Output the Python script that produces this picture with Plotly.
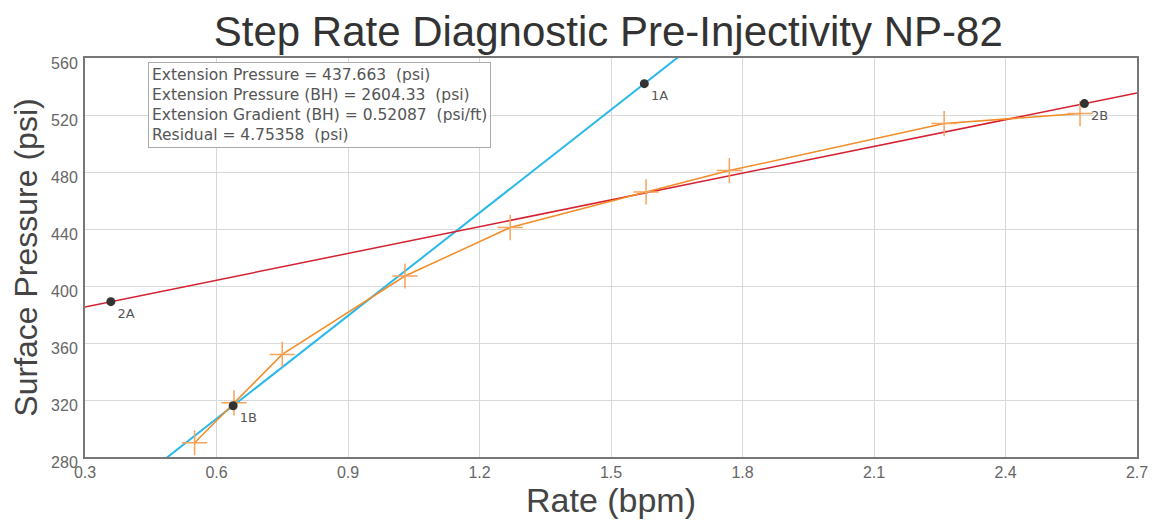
import plotly.graph_objects as go

# Measured step-rate data (orange)
rate = [0.55, 0.64, 0.75, 1.03, 1.27, 1.58, 1.77, 2.26, 2.57]
pressure = [290, 318, 352, 407, 441, 466, 481, 514, 521]

# Fit anchor points
fit_labels = ["1A", "1B", "2A", "2B"]
fit_rate = [1.576, 0.638, 0.359, 2.58]
fit_pressure = [542, 316, 389, 528]

x_range = [0.3, 2.7]
y_range = [280, 560]
x_ticks = [0.3, 0.6, 0.9, 1.2, 1.5, 1.8, 2.1, 2.4, 2.7]
y_ticks = [280, 320, 360, 400, 440, 480, 520, 560]

info_lines = [
    "Extension Pressure = 437.663  (psi)",
    "Extension Pressure (BH) = 2604.33  (psi)",
    "Extension Gradient (BH) = 0.52087  (psi/ft)",
    "Residual = 4.75358  (psi)",
]


def line_through(x1, y1, x2, y2):
    m = (y2 - y1) / (x2 - x1)
    xs = [x_range[0], x_range[1]]
    ys = [y1 + m * (x - x1) for x in xs]
    return xs, ys


fig = go.Figure()

bx, by = line_through(fit_rate[0], fit_pressure[0], fit_rate[1], fit_pressure[1])
fig.add_trace(go.Scatter(x=bx, y=by, mode="lines",
                         line=dict(color="#2BB8EA", width=2), showlegend=False))
rx, ry = line_through(fit_rate[2], fit_pressure[2], fit_rate[3], fit_pressure[3])
fig.add_trace(go.Scatter(x=rx, y=ry, mode="lines",
                         line=dict(color="#D42030", width=1.5), showlegend=False))

fig.add_trace(go.Scatter(x=rate, y=pressure, mode="lines+markers",
                         line=dict(color="#F28C28", width=1.5),
                         marker=dict(symbol="cross-thin", size=18,
                                     line=dict(color="#F7A35C", width=1.5)),
                         showlegend=False))

fig.add_trace(go.Scatter(x=fit_rate, y=fit_pressure, mode="markers+text",
                         text=fit_labels, textposition="bottom right",
                         textfont=dict(family="DejaVu Sans", size=13, color="#555"),
                         marker=dict(color="#333", size=9),
                         showlegend=False, cliponaxis=False))

fig.add_annotation(
    xref="paper", yref="paper", x=0.06, y=0.99, xanchor="left", yanchor="top",
    text="<br>".join(info_lines), align="left", showarrow=False,
    font=dict(family="DejaVu Sans", size=15.5, color="#555"),
    bordercolor="#aaa", borderwidth=1, borderpad=3, bgcolor="white",
)

fig.update_layout(
    width=1152, height=525,
    margin=dict(l=85, r=15, t=58, b=68, autoexpand=False),
    paper_bgcolor="white", plot_bgcolor="white",
    title=dict(text="Step Rate Diagnostic Pre-Injectivity NP-82",
               font=dict(family="Liberation Sans", size=42, color="#333"),
               x=0.528, xanchor="center", y=0.94, yanchor="middle", automargin=False),
    font=dict(family="Liberation Sans"),
)
fig.update_xaxes(range=x_range, tickvals=x_ticks, ticktext=[f"{v:.1f}" for v in x_ticks],
                 showgrid=True, gridcolor="#d9d9d9", gridwidth=1,
                 showline=True, linecolor="#777", linewidth=2, mirror=True,
                 ticks="", zeroline=False, automargin=False,
                 tickfont=dict(size=16, color="#666"),
                 title=dict(text="Rate (bpm)", font=dict(size=34, color="#444"), standoff=7))
fig.update_yaxes(range=y_range, tickvals=y_ticks,
                 showgrid=True, gridcolor="#d9d9d9", gridwidth=1,
                 showline=True, linecolor="#777", linewidth=2, mirror=True,
                 ticks="", zeroline=False, ticklabelshift=5, ticklabelstandoff=2,
                 automargin=False,
                 tickfont=dict(size=16, color="#666"),
                 title=dict(text="Surface Pressure (psi)", font=dict(size=32, color="#444"), standoff=4))

fig.write_html(
    "out.html",
    config={"displayModeBar": False},
    post_script="document.body.style.margin='0';document.body.style.overflow='hidden';",
)
